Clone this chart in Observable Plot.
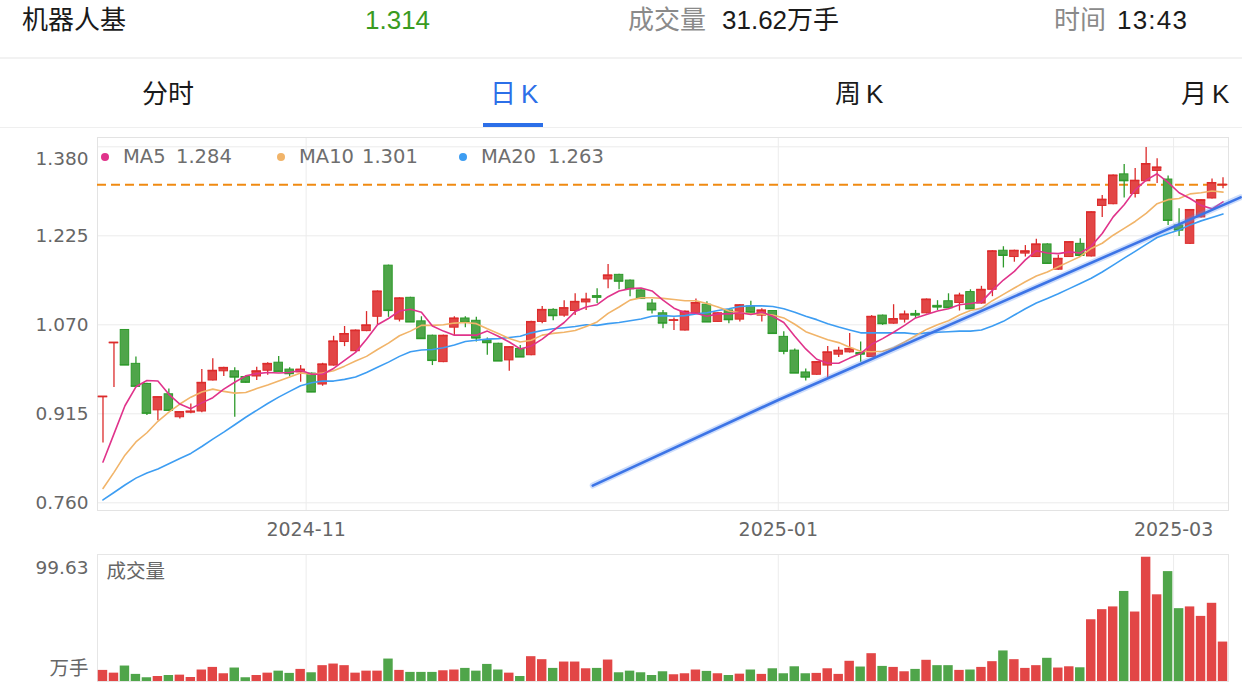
<!DOCTYPE html>
<html><head><meta charset="utf-8">
<script src="https://cdn.jsdelivr.net/npm/d3@7"></script>
<script src="https://cdn.jsdelivr.net/npm/@observablehq/plot@0.6"></script>
<style>
html,body{margin:0;padding:0;background:#fff;}
#root{position:relative;width:1242px;height:692px;overflow:hidden;background:#fff;font-family:"Liberation Sans","Noto Sans CJK SC",sans-serif;}
.t{position:absolute;white-space:nowrap;transform:translateY(-50%);line-height:1;}
.bar{position:absolute;left:0;width:1242px;}
.dot{position:absolute;width:8px;height:8px;border-radius:50%;}
#price,#vol{position:absolute;left:0;}
#price{top:130px;}
#vol{top:545px;}
</style></head>
<body><div id="root"><div id="price"></div><div id="vol"></div></div>
<script>
// ---------- data ----------
const fundName = "机器人基";
const timeLabel = "13:43";
const tabs = ["分时", "日K", "周K", "月K"];
const monthLabels = ["2024-11", "2025-01", "2025-03"];
const monthStartIdx = [19, 62, 98];
const yTicks = [0.760, 0.915, 1.070, 1.225, 1.380];

const opens = [0.944,1.038,1.061,1.002,0.967,0.921,0.949,0.909,0.917,0.919,
 0.973,0.989,0.989,0.979,0.980,0.990,1.004,0.992,0.987,0.985,
 0.966,0.999,1.040,1.024,1.059,1.084,1.173,1.079,1.117,1.076,
 1.051,1.005,1.065,1.081,1.077,1.043,1.037,1.008,1.028,1.017,
 1.075,1.096,1.086,1.094,1.109,1.120,1.149,1.157,1.147,1.130,
 1.107,1.090,1.077,1.060,1.090,1.105,1.075,1.095,1.079,1.102,
 1.086,1.094,1.049,1.025,0.987,0.983,0.999,1.018,1.022,1.021,
 1.014,1.086,1.072,1.079,1.089,1.090,1.103,1.111,1.108,1.127,
 1.107,1.131,1.199,1.188,1.194,1.188,1.210,1.166,1.188,1.211,
 1.189,1.277,1.280,1.332,1.298,1.320,1.338,1.323,1.243,1.211,
 1.257,1.290,1.313];
const highs = [0.945,1.039,1.062,1.014,0.968,0.944,0.958,0.919,0.932,0.992,
 1.011,0.996,0.995,0.981,0.996,1.004,1.015,0.995,0.999,0.986,
 1.003,1.050,1.067,1.061,1.093,1.129,1.174,1.117,1.118,1.084,
 1.052,1.052,1.084,1.084,1.083,1.047,1.038,1.032,1.034,1.076,
 1.102,1.098,1.112,1.124,1.125,1.133,1.175,1.158,1.148,1.131,
 1.114,1.095,1.082,1.094,1.115,1.110,1.091,1.096,1.105,1.111,
 1.098,1.095,1.058,1.028,0.993,1.006,1.032,1.031,1.055,1.040,
 1.086,1.087,1.105,1.094,1.095,1.115,1.112,1.124,1.125,1.131,
 1.137,1.199,1.206,1.200,1.208,1.219,1.211,1.191,1.215,1.220,
 1.267,1.295,1.331,1.349,1.342,1.379,1.359,1.329,1.272,1.271,
 1.288,1.324,1.326];
const lows = [0.864,0.961,1.000,0.962,0.912,0.903,0.920,0.906,0.915,0.917,
 0.972,0.980,0.909,0.968,0.973,0.982,0.988,0.979,0.970,0.952,
 0.963,0.998,1.032,1.023,1.058,1.069,1.083,1.075,1.074,1.045,
 0.999,1.004,1.051,1.065,1.040,1.017,1.006,0.989,1.013,1.016,
 1.072,1.077,1.083,1.086,1.095,1.107,1.133,1.131,1.119,1.115,
 1.089,1.063,1.060,1.059,1.089,1.074,1.074,1.072,1.075,1.091,
 1.075,1.054,1.018,0.985,0.972,0.982,0.978,1.013,1.021,1.005,
 1.013,1.069,1.071,1.073,1.081,1.089,1.095,1.099,1.094,1.097,
 1.106,1.119,1.169,1.179,1.188,1.187,1.176,1.165,1.187,1.190,
 1.188,1.257,1.279,1.291,1.291,1.319,1.316,1.243,1.224,1.210,
 1.256,1.289,1.307];
const closes = [0.945,1.039,1.000,0.963,0.916,0.944,0.921,0.918,0.919,0.969,
 0.990,0.995,0.979,0.970,0.989,1.002,0.989,0.985,0.992,0.953,
 1.001,1.041,1.054,1.060,1.069,1.128,1.095,1.116,1.075,1.046,
 1.008,1.051,1.081,1.075,1.047,1.039,1.007,1.031,1.014,1.075,
 1.096,1.086,1.099,1.110,1.114,1.118,1.156,1.146,1.133,1.116,
 1.096,1.073,1.078,1.093,1.108,1.075,1.090,1.079,1.104,1.092,
 1.095,1.055,1.024,0.986,0.979,1.005,1.022,1.025,1.028,1.019,
 1.084,1.072,1.080,1.088,1.087,1.114,1.101,1.100,1.121,1.098,
 1.131,1.198,1.191,1.199,1.198,1.210,1.177,1.185,1.214,1.191,
 1.266,1.288,1.330,1.321,1.321,1.350,1.344,1.252,1.235,1.270,
 1.287,1.317,1.314];
const volumes = [8.9,6.7,12.4,5.7,3.0,4.0,4.8,5.1,3.2,9.2,
 11.3,6.2,10.8,3.0,4.8,6.7,8.3,6.5,9.7,7.0,
 12.7,14.0,12.7,6.7,8.3,8.3,18.0,8.9,7.3,7.3,
 7.3,8.6,9.2,10.5,8.3,13.7,9.2,6.7,4.0,19.9,
 17.5,10.5,15.6,15.6,10.2,10.5,17.2,7.0,8.3,7.0,
 4.8,7.8,5.4,6.2,9.2,8.1,6.2,4.8,5.9,9.2,
 5.7,10.2,6.2,11.8,6.2,6.5,10.2,5.7,16.2,11.6,
 22.3,12.1,11.3,7.8,9.7,17.0,12.7,12.7,8.9,9.2,
 11.3,15.9,24.5,17.5,10.5,12.7,18.6,10.8,11.8,11.0,
 49.5,57.6,59.8,72.2,55.7,99.63,69.5,88.1,58.4,59.8,
 52.2,62.7,31.62];
const ma5 = [0.831,0.880,0.929,0.962,0.973,0.972,0.949,0.932,0.924,0.934,
 0.943,0.958,0.970,0.981,0.985,0.987,0.986,0.987,0.991,0.984,
 0.984,0.994,1.008,1.022,1.045,1.070,1.081,1.094,1.097,1.092,
 1.068,1.059,1.052,1.052,1.052,1.059,1.050,1.040,1.028,1.033,
 1.045,1.060,1.074,1.093,1.101,1.105,1.119,1.129,1.133,1.134,
 1.129,1.113,1.099,1.091,1.090,1.085,1.089,1.089,1.091,1.088,
 1.092,1.085,1.074,1.050,1.028,1.010,1.003,1.003,1.012,1.020,
 1.036,1.046,1.057,1.069,1.082,1.088,1.094,1.098,1.105,1.107,
 1.110,1.130,1.148,1.163,1.183,1.199,1.195,1.194,1.197,1.195,
 1.207,1.229,1.258,1.279,1.305,1.322,1.333,1.318,1.300,1.290,
 1.278,1.272,1.284];
const ma10 = [0.785,0.813,0.843,0.866,0.882,0.902,0.918,0.932,0.944,0.953,
 0.958,0.954,0.951,0.952,0.959,0.965,0.972,0.979,0.986,0.984,
 0.986,0.990,0.998,1.007,1.015,1.027,1.038,1.051,1.059,1.069,
 1.069,1.070,1.073,1.074,1.072,1.063,1.055,1.046,1.040,1.043,
 1.052,1.055,1.057,1.060,1.067,1.075,1.090,1.101,1.113,1.117,
 1.117,1.116,1.114,1.112,1.112,1.107,1.101,1.094,1.091,1.089,
 1.089,1.087,1.082,1.071,1.058,1.051,1.044,1.039,1.031,1.024,
 1.023,1.024,1.030,1.040,1.051,1.062,1.070,1.077,1.087,1.095,
 1.099,1.112,1.123,1.134,1.145,1.155,1.162,1.171,1.180,1.189,
 1.203,1.212,1.226,1.238,1.250,1.264,1.281,1.288,1.290,1.298,
 1.300,1.303,1.301];
const ma20 = [0.765,0.778,0.791,0.803,0.812,0.819,0.828,0.837,0.846,0.858,
 0.871,0.883,0.896,0.909,0.921,0.933,0.944,0.954,0.964,0.969,
 0.972,0.972,0.975,0.979,0.987,0.996,1.005,1.015,1.023,1.026,
 1.027,1.030,1.035,1.041,1.043,1.045,1.046,1.048,1.050,1.056,
 1.060,1.063,1.065,1.067,1.070,1.069,1.072,1.074,1.077,1.080,
 1.085,1.086,1.085,1.086,1.089,1.091,1.095,1.098,1.102,1.103,
 1.103,1.102,1.098,1.092,1.085,1.079,1.072,1.066,1.061,1.056,
 1.056,1.056,1.056,1.056,1.054,1.056,1.057,1.058,1.059,1.059,
 1.061,1.068,1.076,1.087,1.098,1.108,1.116,1.124,1.133,1.142,
 1.151,1.162,1.174,1.186,1.198,1.210,1.222,1.229,1.235,1.244,
 1.251,1.257,1.263];
// hand-drawn trend line (candle index, price)
const trendIdx = [44.6, 61.6, 103.6];
const trendPrice = [0.790, 0.940, 1.292];

// ---------- build ----------
const N = closes.length;
const rows = d3.range(N).map(i => ({
  i, o: opens[i], h: highs[i], l: lows[i], c: closes[i], v: volumes[i],
  ma5: ma5[i], ma10: ma10[i], ma20: ma20[i], up: closes[i] >= opens[i]
}));
const trend = trendIdx.map((x, k) => ({x, y: trendPrice[k]}));

const RED = "#e24646", RED_S = "#dc2b2b", GRN = "#4fa54a", GRN_S = "#2e9a2b";
const C_MA5 = "#e0338b", C_MA10 = "#f1b469", C_MA20 = "#3d9df2";
const GRID = "#ececec";
const xDom = [-0.5, N - 0.5];
const hw = 0.385;
const LBL = "'DejaVu Sans','Noto Sans CJK SC',sans-serif";

const root = document.getElementById("root");
function txt(s, x, y, size, color, family, spacing) {
  const d = document.createElement("div");
  d.className = "t"; d.textContent = s;
  d.style.left = x + "px"; d.style.top = y + "px";
  d.style.fontSize = size + "px"; d.style.color = color;
  if (family) d.style.fontFamily = family;
  if (spacing) d.style.letterSpacing = spacing + "px";
  root.appendChild(d);
  return d;
}
function bar(top, h, color, left, width) {
  const d = document.createElement("div");
  d.className = "bar"; d.style.top = top + "px"; d.style.height = h + "px"; d.style.background = color;
  if (left != null) { d.style.left = left + "px"; d.style.width = width + "px"; }
  root.appendChild(d);
}

// header
txt(fundName, 22, 20, 26, "#1a1a1a");
txt(closes[N - 1].toFixed(3), 365, 20, 26, "#3a9b1f");
txt("成交量", 628, 20, 26, "#8a8a8a");
txt(volumes[N - 1].toFixed(2) + "万手", 722, 20, 26, "#1a1a1a");
txt("时间", 1054, 20, 26, "#8a8a8a");
txt(timeLabel, 1117, 20, 26, "#1a1a1a", null, 1.2);
bar(56.5, 2.5, "#f2f2f2");
const tabX = [142, 490, 835, 1181];
tabs.forEach((t, k) => txt(t, tabX[k], 94, 26, k === 1 ? "#2c6fe8" : "#1a1a1a", null, k === 0 ? 0 : 5));
bar(126.5, 1.5, "#efefef");
bar(123, 3.5, "#2c6fe8", 483, 60);

// price chart
const price = Plot.plot({
  width: 1242, height: 415,
  marginLeft: 97, marginRight: 14, marginTop: 7, marginBottom: 35,
  x: {domain: xDom, axis: null},
  y: {domain: [0.7466, 1.3962], axis: null},
  color: {type: "identity"},
  style: {fontFamily: LBL, fontSize: "19px", background: "transparent", overflow: "visible"},
  marks: [
    Plot.ruleY(yTicks, {stroke: GRID}),
    Plot.ruleX(monthStartIdx, {x: d => d - 0.5, stroke: GRID}),
    Plot.frame({stroke: "#e3e3e3"}),
    Plot.ruleY([closes[N - 1]], {stroke: "#f08a12", strokeWidth: 2, strokeDasharray: "9,5"}),
    Plot.ruleX(rows, {x: "i", y1: "l", y2: "h", stroke: d => d.up ? RED_S : GRN_S, strokeWidth: 1.3}),
    Plot.rect(rows, {x1: d => d.i - hw, x2: d => d.i + hw, y1: "o", y2: "c",
      fill: d => d.up ? RED : GRN, stroke: d => d.up ? RED_S : GRN_S, strokeWidth: 1}),
    Plot.ruleY(rows, {y: "c", x1: d => d.i - hw - 0.04, x2: d => d.i + hw + 0.04,
      stroke: d => d.up ? RED_S : GRN_S, strokeWidth: 1.3}),
    Plot.line(rows, {x: "i", y: "ma20", stroke: C_MA20, strokeWidth: 1.6}),
    Plot.line(rows, {x: "i", y: "ma10", stroke: C_MA10, strokeWidth: 1.6}),
    Plot.line(rows, {x: "i", y: "ma5", stroke: C_MA5, strokeWidth: 1.6}),
    Plot.line(trend, {x: "x", y: "y", stroke: "#5b8ff2", strokeWidth: 6, strokeOpacity: 0.3, strokeLinecap: "round"}),
    Plot.line(trend, {x: "x", y: "y", stroke: "#3c74e6", strokeWidth: 2.6, strokeLinecap: "round"}),
    Plot.text(yTicks.filter(t => t < 1.3), {y: d => d, text: d => d.toFixed(3), frameAnchor: "left",
      lineAnchor: "middle", textAnchor: "end", dx: -9, fill: "#666", fontSize: 18.5}),
    Plot.text(yTicks.filter(t => t >= 1.3), {y: d => d, text: d => d.toFixed(3), frameAnchor: "left",
      lineAnchor: "middle", textAnchor: "end", dx: -9, dy: 12, fill: "#666", fontSize: 18.5}),
    Plot.text(monthStartIdx, {x: d => d - 0.5, text: (d, k) => monthLabels[k], frameAnchor: "bottom",
      lineAnchor: "middle", dy: 19.5, fill: "#666", fontSize: 19})
  ]
});
document.getElementById("price").appendChild(price);

// MA legend (inside the price panel)
const legend = [
  {name: "MA5", value: ma5[N - 1], color: C_MA5, dot: 105, name_x: 123, val_x: 176},
  {name: "MA10", value: ma10[N - 1], color: C_MA10, dot: 281, name_x: 299, val_x: 362},
  {name: "MA20", value: ma20[N - 1], color: C_MA20, dot: 463, name_x: 481, val_x: 548}
];
legend.forEach(g => {
  const d = document.createElement("div");
  d.className = "dot"; d.style.left = (g.dot - 4) + "px"; d.style.top = (157 - 4) + "px";
  d.style.background = g.color; root.appendChild(d);
  txt(g.name, g.name_x, 157, 19.5, "#6e6e6e", LBL);
  txt(g.value.toFixed(3), g.val_x, 157, 19.5, "#6e6e6e", LBL);
});

// volume chart
const vmax = d3.max(volumes);
const vol = Plot.plot({
  width: 1242, height: 147,
  marginLeft: 97, marginRight: 14, marginTop: 9, marginBottom: 11,
  x: {domain: xDom, axis: null},
  y: {domain: [0, vmax * 1.022], axis: null},
  color: {type: "identity"},
  style: {fontFamily: LBL, fontSize: "19px", background: "transparent", overflow: "visible"},
  marks: [
    Plot.ruleX(monthStartIdx, {x: d => d - 0.5, stroke: GRID}),
    Plot.frame({stroke: "#e6e6e6"}),
    Plot.rect(rows, {x1: d => d.i - 0.43, x2: d => d.i + 0.43, y1: 0, y2: "v",
      fill: d => d.up ? RED : GRN}),
    Plot.text(["成交量"], {text: d => d, frameAnchor: "top-left", lineAnchor: "middle", dx: 9, dy: 17.5, fill: "#666", fontSize: 19.5}),
    Plot.text([vmax], {text: d => d.toFixed(2), frameAnchor: "top-left", lineAnchor: "middle", textAnchor: "end", dx: -9, dy: 13.5, fill: "#666", fontSize: 18.5}),
    Plot.text(["万手"], {text: d => d, frameAnchor: "bottom-left", lineAnchor: "middle", textAnchor: "end", dx: -9, dy: -12.5, fill: "#666", fontSize: 19.5})
  ]
});
document.getElementById("vol").appendChild(vol);
</script></body></html>
